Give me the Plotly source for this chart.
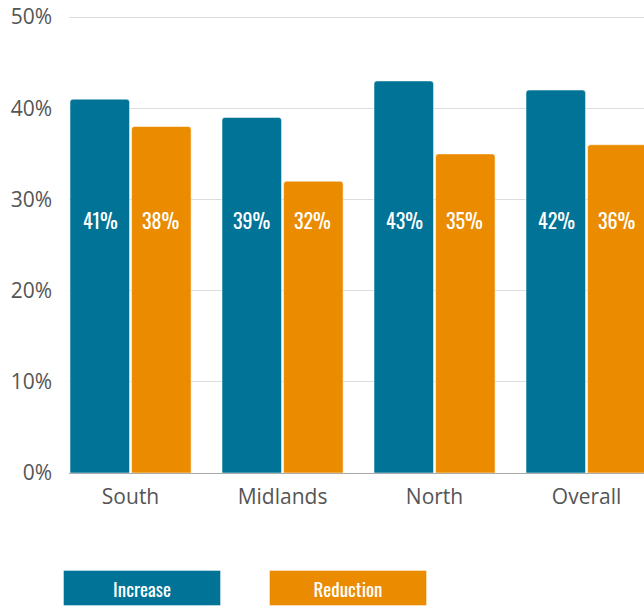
import plotly.graph_objects as go

categories = ["South", "Midlands", "North", "Overall"]
increase = [41, 39, 43, 42]
reduction = [38, 32, 35, 36]
series_names = ["Increase", "Reduction"]
colors = ["#007396", "#eb8b00"]
y_ticks = [0, 10, 20, 30, 40, 50]
y_tick_text = ["0%", "10%", "20%", "30%", "40%", "50%"]
label_level = 27.8

W, H = 644, 607

fig = go.Figure()
for name, vals, col in zip(series_names, [increase, reduction], colors):
    fig.add_trace(go.Bar(
        x=categories, y=vals, name=name,
        marker=dict(color=col, line=dict(color="rgba(255,255,255,0.5)", width=1)),
        showlegend=False, hoverinfo="skip",
    ))

label_font = dict(family="Oswald, 'Liberation Sans Narrow', 'DejaVu Sans Condensed', 'Roboto', sans-serif",
                  size=20, color="white")
for i, c in enumerate(categories):
    for off, vals in [(-0.2, increase), (0.2, reduction)]:
        fig.add_annotation(x=i + off, y=label_level, text=f"{vals[i]}%", showarrow=False,
                           xref="x", yref="y", font=label_font)

# legend boxes
plot_left, plot_right, plot_top, plot_bottom = 69, 644, 8, 473
pw = plot_right - plot_left
ph = plot_bottom - plot_top
for name, col, cx in zip(series_names, colors, [142, 348]):
    fig.add_annotation(
        x=(cx - plot_left) / pw, y=(plot_bottom - 588) / ph, xref="paper", yref="paper",
        text=name, showarrow=False, xanchor="center", yanchor="middle",
        bgcolor=col, width=156, height=34, borderpad=0, borderwidth=1,
        bordercolor="rgba(255,255,255,0.4)",
        font=dict(family=label_font["family"], size=19, color="white"),
    )

fig.update_layout(
    width=W, height=H,
    margin=dict(l=plot_left, r=W - plot_right, t=plot_top, b=H - plot_bottom),
    paper_bgcolor="white", plot_bgcolor="white",
    barmode="group", bargap=0.19, bargroupgap=0.033, barcornerradius=3,
    font=dict(family="'Open Sans', sans-serif", color="#555555"),
    xaxis=dict(range=[-0.405, 3.378], showgrid=False, tickfont=dict(size=21),
               showline=True, linecolor="#aaaaaa", ticks="", ticklabelstandoff=5,
               fixedrange=True),
    yaxis=dict(range=[0, 51], tickvals=y_ticks, ticktext=y_tick_text, tickfont=dict(size=21),
               gridcolor="#dddddd", zeroline=False, ticklabelstandoff=16, fixedrange=True),
)

fig.write_html(
    "out.html",
    config={"displayModeBar": False},
    post_script="document.body.style.margin='0';document.body.style.overflow='hidden';",
)
